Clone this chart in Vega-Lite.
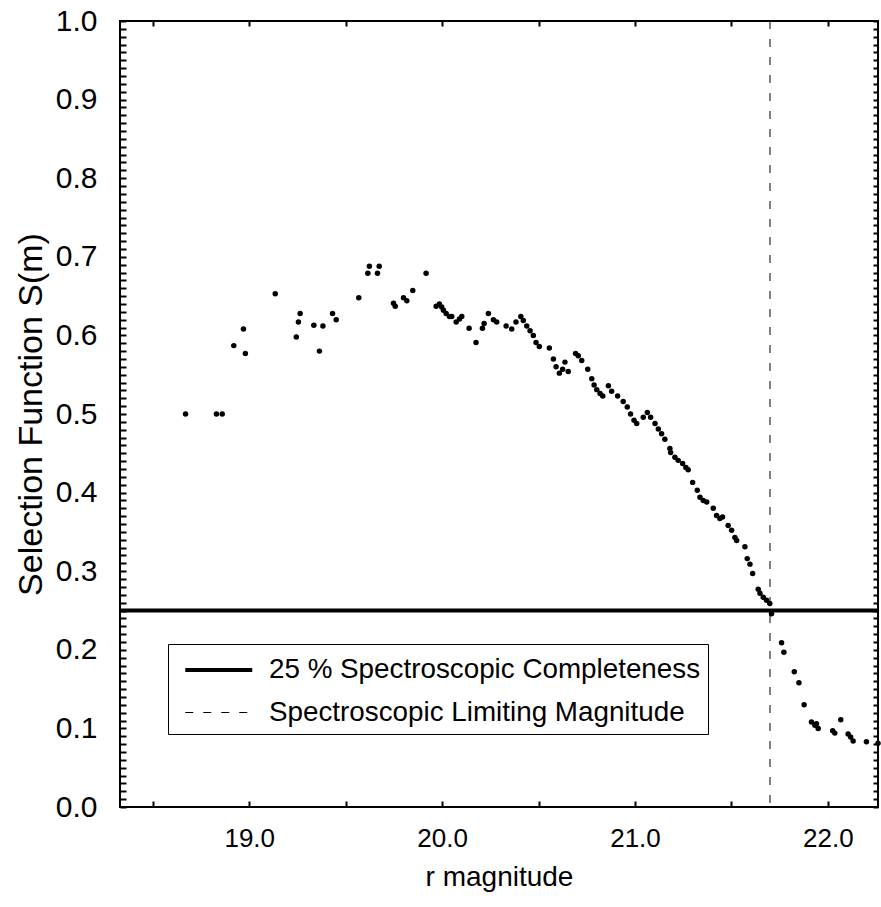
{
  "$schema": "https://vega.github.io/schema/vega-lite/v6.json",
  "width": 758,
  "height": 786,
  "autosize": {"type": "none"},
  "padding": {"left": 120, "top": 21, "right": 3, "bottom": 100},
  "background": "white",
  "config": {
    "view": {"stroke": "black", "strokeWidth": 2},
    "font": "Liberation Sans",
    "axis": {"grid": false, "domain": false, "labelColor": "black", "titleColor": "black", "labelFont": "Liberation Sans", "titleFont": "Liberation Sans", "titleFontWeight": "normal"},
    "legend": {
      "orient": "none", "legendX": 48, "legendY": 623,
      "symbolType": "M-1,0L3,0", "symbolSize": 1122, "symbolStrokeColor": "black", "symbolFillColor": "transparent",
      "symbolOffset": 8,
      "labelFontSize": 27.8, "labelFont": "Liberation Sans", "labelColor": "black",
      "labelOffset": 48, "labelLimit": 0,
      "strokeColor": "black", "fillColor": "white", "padding": 7, "rowPadding": 11
    }
  },
  "resolve": {"axis": {"x": "independent", "y": "independent"}},
  "layer": [
    {
      "data": {"values": [
        {"r": 18.67, "s": 0.5}, {"r": 18.83, "s": 0.5}, {"r": 18.86, "s": 0.5},
        {"r": 18.92, "s": 0.587}, {"r": 18.97, "s": 0.608}, {"r": 18.98, "s": 0.577},
        {"r": 19.135, "s": 0.653}, {"r": 19.244, "s": 0.598}, {"r": 19.255, "s": 0.617},
        {"r": 19.264, "s": 0.628}, {"r": 19.335, "s": 0.613}, {"r": 19.364, "s": 0.58},
        {"r": 19.382, "s": 0.612}, {"r": 19.432, "s": 0.628}, {"r": 19.451, "s": 0.62},
        {"r": 19.568, "s": 0.648}, {"r": 19.615, "s": 0.679}, {"r": 19.623, "s": 0.688},
        {"r": 19.665, "s": 0.679}, {"r": 19.674, "s": 0.688}, {"r": 19.748, "s": 0.641},
        {"r": 19.757, "s": 0.637}, {"r": 19.8, "s": 0.648}, {"r": 19.817, "s": 0.644},
        {"r": 19.848, "s": 0.657}, {"r": 19.917, "s": 0.679}, {"r": 19.969, "s": 0.637},
        {"r": 19.986, "s": 0.64}, {"r": 19.998, "s": 0.636}, {"r": 20.007, "s": 0.632},
        {"r": 20.021, "s": 0.628}, {"r": 20.038, "s": 0.624}, {"r": 20.05, "s": 0.624},
        {"r": 20.073, "s": 0.617}, {"r": 20.09, "s": 0.621}, {"r": 20.102, "s": 0.624},
        {"r": 20.14, "s": 0.609}, {"r": 20.176, "s": 0.591}, {"r": 20.209, "s": 0.609},
        {"r": 20.218, "s": 0.615}, {"r": 20.24, "s": 0.628}, {"r": 20.266, "s": 0.62},
        {"r": 20.283, "s": 0.617}, {"r": 20.332, "s": 0.612}, {"r": 20.361, "s": 0.608},
        {"r": 20.383, "s": 0.617}, {"r": 20.408, "s": 0.624}, {"r": 20.421, "s": 0.619},
        {"r": 20.439, "s": 0.612}, {"r": 20.456, "s": 0.606}, {"r": 20.473, "s": 0.6},
        {"r": 20.487, "s": 0.591}, {"r": 20.504, "s": 0.586}, {"r": 20.556, "s": 0.584},
        {"r": 20.577, "s": 0.57}, {"r": 20.591, "s": 0.56}, {"r": 20.608, "s": 0.552},
        {"r": 20.625, "s": 0.557}, {"r": 20.637, "s": 0.566}, {"r": 20.654, "s": 0.554},
        {"r": 20.692, "s": 0.577}, {"r": 20.706, "s": 0.574}, {"r": 20.724, "s": 0.568},
        {"r": 20.755, "s": 0.557}, {"r": 20.776, "s": 0.545}, {"r": 20.788, "s": 0.537},
        {"r": 20.802, "s": 0.531}, {"r": 20.819, "s": 0.526}, {"r": 20.833, "s": 0.523},
        {"r": 20.862, "s": 0.536}, {"r": 20.879, "s": 0.529}, {"r": 20.91, "s": 0.523},
        {"r": 20.939, "s": 0.516}, {"r": 20.96, "s": 0.509}, {"r": 20.977, "s": 0.5},
        {"r": 20.995, "s": 0.492}, {"r": 21.009, "s": 0.488}, {"r": 21.043, "s": 0.496},
        {"r": 21.064, "s": 0.502}, {"r": 21.081, "s": 0.496}, {"r": 21.104, "s": 0.488},
        {"r": 21.121, "s": 0.481}, {"r": 21.138, "s": 0.475}, {"r": 21.155, "s": 0.468},
        {"r": 21.181, "s": 0.456}, {"r": 21.185, "s": 0.451}, {"r": 21.207, "s": 0.445},
        {"r": 21.224, "s": 0.441}, {"r": 21.247, "s": 0.437}, {"r": 21.264, "s": 0.432},
        {"r": 21.276, "s": 0.429}, {"r": 21.299, "s": 0.413}, {"r": 21.323, "s": 0.403},
        {"r": 21.337, "s": 0.394}, {"r": 21.354, "s": 0.39}, {"r": 21.372, "s": 0.388},
        {"r": 21.406, "s": 0.38}, {"r": 21.423, "s": 0.371}, {"r": 21.44, "s": 0.367},
        {"r": 21.454, "s": 0.369}, {"r": 21.483, "s": 0.358}, {"r": 21.501, "s": 0.352},
        {"r": 21.518, "s": 0.343}, {"r": 21.527, "s": 0.339}, {"r": 21.57, "s": 0.331},
        {"r": 21.582, "s": 0.316}, {"r": 21.596, "s": 0.309}, {"r": 21.61, "s": 0.297},
        {"r": 21.639, "s": 0.277}, {"r": 21.648, "s": 0.272}, {"r": 21.665, "s": 0.267},
        {"r": 21.682, "s": 0.263}, {"r": 21.699, "s": 0.259}, {"r": 21.708, "s": 0.246},
        {"r": 21.76, "s": 0.209}, {"r": 21.772, "s": 0.197}, {"r": 21.826, "s": 0.172},
        {"r": 21.85, "s": 0.158}, {"r": 21.877, "s": 0.13}, {"r": 21.915, "s": 0.108},
        {"r": 21.933, "s": 0.104}, {"r": 21.941, "s": 0.106}, {"r": 21.95, "s": 0.1},
        {"r": 22.025, "s": 0.097}, {"r": 22.036, "s": 0.094}, {"r": 22.067, "s": 0.111},
        {"r": 22.105, "s": 0.093}, {"r": 22.118, "s": 0.089}, {"r": 22.131, "s": 0.084},
        {"r": 22.2, "s": 0.083}, {"r": 22.26, "s": 0.081}
      ]},
      "mark": {"type": "circle", "color": "black", "opacity": 1, "size": 30},
      "encoding": {
        "x": {"field": "r", "type": "quantitative", "scale": {"domain": [18.33, 22.26], "nice": false, "zero": false},
          "axis": {"orient": "bottom", "values": [18.5, 19, 19.5, 20, 20.5, 21, 21.5, 22],
            "labelExpr": "datum.value % 1 == 0 ? format(datum.value, '.1f') : ''",
            "ticks": true, "tickSize": 6, "tickWidth": 2, "tickColor": "black", "offset": -6,
            "labelPadding": 18, "labelFontSize": 26, "labelOverlap": false, "labelFlush": false, "labelBound": false,
            "title": "r magnitude", "titleFontSize": 28, "titlePadding": 12}},
        "y": {"field": "s", "type": "quantitative", "scale": {"domain": [0, 1], "nice": false},
          "axis": {"orient": "left", "values": [0,0.01,0.02,0.03,0.04,0.05,0.06,0.07,0.08,0.09,0.1,0.11,0.12,0.13,0.14,0.15,0.16,0.17,0.18,0.19,0.2,0.21,0.22,0.23,0.24,0.25,0.26,0.27,0.28,0.29,0.3,0.31,0.32,0.33,0.34,0.35,0.36,0.37,0.38,0.39,0.4,0.41,0.42,0.43,0.44,0.45,0.46,0.47,0.48,0.49,0.5,0.51,0.52,0.53,0.54,0.55,0.56,0.57,0.58,0.59,0.6,0.61,0.62,0.63,0.64,0.65,0.66,0.67,0.68,0.69,0.7,0.71,0.72,0.73,0.74,0.75,0.76,0.77,0.78,0.79,0.8,0.81,0.82,0.83,0.84,0.85,0.86,0.87,0.88,0.89,0.9,0.91,0.92,0.93,0.94,0.95,0.96,0.97,0.98,0.99,1.0],
            "labelExpr": "abs(datum.value*10 - round(datum.value*10)) < 0.001 ? format(datum.value, '.1f') : ''",
            "ticks": true, "tickSize": 6, "tickWidth": 2, "tickColor": "black", "offset": -6,
            "labelPadding": 23, "labelFontSize": 30, "labelOverlap": false, "labelFlush": false, "labelBound": false,
            "title": "Selection Function S(m)", "titleFontSize": 34, "titlePadding": 7}}
      }
    },
    {
      "data": {"values": [{"line": "25 % Spectroscopic Completeness", "s": 0.25}]},
      "mark": {"type": "rule", "color": "black"},
      "encoding": {
        "y": {"field": "s", "type": "quantitative",
          "axis": {"orient": "right", "values": [0,0.01,0.02,0.03,0.04,0.05,0.06,0.07,0.08,0.09,0.1,0.11,0.12,0.13,0.14,0.15,0.16,0.17,0.18,0.19,0.2,0.21,0.22,0.23,0.24,0.25,0.26,0.27,0.28,0.29,0.3,0.31,0.32,0.33,0.34,0.35,0.36,0.37,0.38,0.39,0.4,0.41,0.42,0.43,0.44,0.45,0.46,0.47,0.48,0.49,0.5,0.51,0.52,0.53,0.54,0.55,0.56,0.57,0.58,0.59,0.6,0.61,0.62,0.63,0.64,0.65,0.66,0.67,0.68,0.69,0.7,0.71,0.72,0.73,0.74,0.75,0.76,0.77,0.78,0.79,0.8,0.81,0.82,0.83,0.84,0.85,0.86,0.87,0.88,0.89,0.9,0.91,0.92,0.93,0.94,0.95,0.96,0.97,0.98,0.99,1.0], "labels": false, "ticks": true, "tickSize": 5, "tickWidth": 2, "tickColor": "black", "offset": -5, "title": null}},
        "strokeDash": {"field": "line", "type": "nominal", "scale": {"domain": ["25 % Spectroscopic Completeness", "Spectroscopic Limiting Magnitude"], "range": [[1, 0], [8, 10]]}, "legend": {"title": null}},
        "strokeWidth": {"field": "line", "type": "nominal", "scale": {"domain": ["25 % Spectroscopic Completeness", "Spectroscopic Limiting Magnitude"], "range": [4, 1]}, "legend": {"title": null}}
      }
    },
    {
      "data": {"values": [{"line": "Spectroscopic Limiting Magnitude", "r": 21.7}]},
      "mark": {"type": "rule", "color": "black"},
      "encoding": {
        "x": {"field": "r", "type": "quantitative",
          "axis": {"orient": "top", "values": [18.5, 19, 19.5, 20, 20.5, 21, 21.5, 22], "labels": false, "ticks": true, "tickSize": 5, "tickWidth": 2, "tickColor": "black", "offset": -5, "title": null}},
        "strokeDash": {"field": "line", "type": "nominal", "scale": {"domain": ["25 % Spectroscopic Completeness", "Spectroscopic Limiting Magnitude"], "range": [[1, 0], [8, 10]]}, "legend": {"title": null}},
        "strokeWidth": {"field": "line", "type": "nominal", "scale": {"domain": ["25 % Spectroscopic Completeness", "Spectroscopic Limiting Magnitude"], "range": [4, 1]}, "legend": {"title": null}}
      }
    }
  ]
}
